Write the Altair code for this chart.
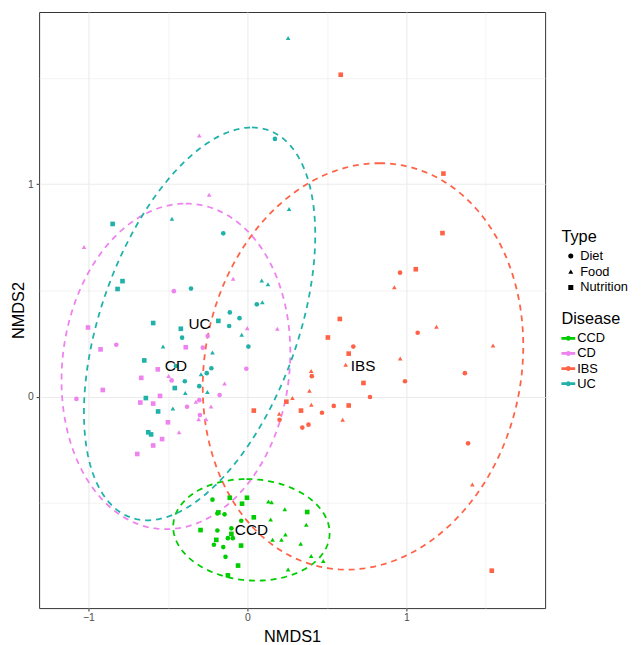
import altair as alt
import numpy as np
import pandas as pd

# ---------------- data ----------------
diseases = ["CCD", "CD", "IBS", "UC"]
types = ["Diet", "Food", "Nutrition"]
colors = ["#00CD00", "#EE82EE", "#FF6347", "#20B2AA"]
shapes = ["circle", "triangle-up", "square"]

# UC
uc_food_x = [0.256, 0.262, -0.475, 0.090, 0.129, 0.094, -0.036, -0.531, -0.220, -0.292, -0.391, -0.252, -0.469]
uc_food_y = [1.688, 0.883, 0.837, 0.547, 0.529, 0.445, 0.292, 0.236, 0.208, 0.106, 0.018, 0.022, -0.055]
uc_diet_x = [0.173, -0.152, -0.355, 0.059, -0.111, -0.050, -0.115, -0.411, 0.006, -0.227, -0.256, -0.394, -0.303, -0.450]
uc_diet_y = [1.213, 0.769, 0.509, 0.435, 0.397, 0.370, 0.333, 0.278, 0.236, 0.134, 0.111, 0.073, 0.050, 0.145]
uc_nutr_x = [-0.848, -0.786, -0.817, -0.593, -0.419, -0.183, -0.649, -0.457, -0.639, -0.562, -0.624, -0.606]
uc_nutr_y = [0.813, 0.544, 0.507, 0.347, 0.320, 0.357, 0.171, 0.041, -0.006, -0.069, -0.167, -0.177]

# CD
cd_food_x = [-0.303, -0.241, -1.028, -0.090, -0.001, 0.188, -0.496, -0.144, -0.324, -0.229, -0.307, -0.260, -0.430]
cd_food_y = [1.229, 0.950, 0.705, 0.555, 0.323, 0.320, 0.098, 0.063, -0.023, -0.046, -0.106, -0.106, -0.167]
cd_diet_x = [-0.463, -0.250, -0.825, -0.281, -0.007, -0.477, -0.175, -1.076, -0.303, -0.380, -0.299]
cd_diet_y = [0.497, 0.286, 0.245, 0.231, 0.132, 0.077, 0.008, -0.010, -0.016, -0.047, -0.086]
cd_nutr_x = [-1.003, -0.924, -0.388, -0.564, -0.668, -0.910, -0.550, -0.674, -0.593, -0.500, -0.537, -0.593, -0.693]
cd_nutr_y = [0.326, 0.223, 0.233, 0.129, 0.089, 0.032, 0.004, -0.027, -0.032, -0.120, -0.199, -0.229, -0.269]

# IBS
ibs_food_x = [0.924, 1.189, 1.545, 0.961, 0.618, 0.401, 0.390, 0.283, 0.402, 0.599, 0.200, 1.415]
ibs_food_y = [0.515, 0.330, 0.241, 0.180, 0.151, 0.121, 0.028, -0.006, -0.038, -0.108, -0.080, -0.413]
ibs_diet_x = [0.960, 1.071, 0.666, 0.405, 1.368, 0.991, 0.771, 0.543, 0.469, 0.384, 0.345, 1.388, 0.202]
ibs_diet_y = [0.584, 0.301, 0.236, 0.097, 0.111, 0.073, -0.001, -0.043, -0.075, -0.131, -0.145, -0.219, -0.108]
ibs_nutr_x = [0.587, 1.233, 1.227, 1.059, 0.581, 0.506, 0.637, 0.730, 0.637, 0.245, 0.337, 0.040, 1.537]
ibs_nutr_y = [1.515, 1.050, 0.770, 0.600, 0.366, 0.279, 0.203, 0.065, -0.041, -0.023, -0.065, -0.065, -0.818]

# CCD
ccd_diet_x = [-0.220, -0.189, -0.144, -0.039, -0.189, -0.101, -0.123, -0.092, -0.211, -0.152, -0.138]
ccd_diet_y = [-0.484, -0.549, -0.553, -0.583, -0.629, -0.619, -0.665, -0.665, -0.696, -0.707, -0.753]
ccd_nutr_x = [-0.111, -0.003, -0.034, -0.183, 0.040, 0.376, -0.295, -0.101, -0.196, -0.040, -0.059, -0.123]
ccd_nutr_y = [-0.475, -0.475, -0.503, -0.544, -0.567, -0.542, -0.627, -0.645, -0.673, -0.700, -0.794, -0.840]
ccd_food_x = [0.132, 0.152, 0.235, 0.146, 0.370, 0.239, 0.158, 0.214, 0.335, 0.401, 0.477, 0.256]
ccd_food_y = [-0.493, -0.496, -0.529, -0.577, -0.602, -0.648, -0.673, -0.673, -0.691, -0.749, -0.773, -0.812]

# ellipse centres (also label positions) and conjugate semi-diameters
ell_cx = [0.025, -0.450, 0.727, -0.301]
ell_cy = [-0.626, 0.143, 0.143, 0.343]
ell_ux = [-0.031, 0.062, 0.102, 0.329]
ell_uy = [0.239, 0.766, 0.956, 0.924]
ell_vx = [0.491, 0.717, 1.003, 0.649]
ell_vy = [0.0, 0.0, 0.0, 0.0]

# ---------------- build tables ----------------
groups = [
    ("UC", "Food", uc_food_x, uc_food_y), ("UC", "Diet", uc_diet_x, uc_diet_y), ("UC", "Nutrition", uc_nutr_x, uc_nutr_y),
    ("CD", "Food", cd_food_x, cd_food_y), ("CD", "Diet", cd_diet_x, cd_diet_y), ("CD", "Nutrition", cd_nutr_x, cd_nutr_y),
    ("IBS", "Food", ibs_food_x, ibs_food_y), ("IBS", "Diet", ibs_diet_x, ibs_diet_y), ("IBS", "Nutrition", ibs_nutr_x, ibs_nutr_y),
    ("CCD", "Diet", ccd_diet_x, ccd_diet_y), ("CCD", "Nutrition", ccd_nutr_x, ccd_nutr_y), ("CCD", "Food", ccd_food_x, ccd_food_y),
]
rows = []
for d, t, xs, ys in groups:
    for x, y in zip(xs, ys):
        rows.append({"NMDS1": x, "NMDS2": y, "Disease": d, "Type": t})
pts = pd.DataFrame(rows)

tt = np.linspace(0, 2 * np.pi, 200)
def ellipse_df(i):
    return pd.DataFrame({
        "k": np.arange(len(tt)),
        "NMDS1": ell_cx[i] + ell_ux[i] * np.cos(tt) + ell_vx[i] * np.sin(tt),
        "NMDS2": ell_cy[i] + ell_uy[i] * np.cos(tt) + ell_vy[i] * np.sin(tt),
    })

labels = pd.DataFrame({"NMDS1": ell_cx, "NMDS2": ell_cy, "Disease": diseases})

# ---------------- chart ----------------
FONT = "Liberation Sans"
W, H = 512.5, 603.7
xdom = [-1.3106, 1.8727]
ydom = [-0.994, 1.810]
grid_vals_x = [-1.0, -0.5, 0.0, 0.5, 1.0, 1.5]
grid_vals_y = [-0.5, 0.0, 0.5, 1.0, 1.5]

cond_tick = {"condition": {"test": "datum.value % 1 != 0", "value": 0}, "value": 1}
cond_gridw = {"condition": {"test": "datum.value % 1 != 0", "value": 0.6}, "value": 1.1}

def make_axis(vals, title, **kw):
    return alt.Axis(
        values=vals, title=title, grid=True, gridColor="#EBEBEB", gridWidth=cond_gridw,
        tickOpacity=cond_tick, tickColor="#333333", tickSize=3,
        labelExpr="datum.value % 1 == 0 ? format(datum.value, 'd') : ''",
        labelFont=FONT, labelFontSize=10.5, labelColor="#4D4D4D",
        titleFont=FONT, titleFontSize=16.5, titleFontWeight="normal", titleColor="#000000",
        domain=False, **kw)

xenc = alt.X("NMDS1:Q", scale=alt.Scale(domain=xdom, nice=False, zero=False),
             axis=make_axis(grid_vals_x, "NMDS1", labelPadding=2, titlePadding=5))
yenc = alt.Y("NMDS2:Q", scale=alt.Scale(domain=ydom, nice=False, zero=False),
             axis=make_axis(grid_vals_y, "NMDS2", labelPadding=3,
                            titleX=-21, titleY=H / 2, titleBaseline="middle", titleAlign="center"))

color_scale = alt.Scale(domain=diseases, range=colors)
# line-with-dot key; both sub-paths wound clockwise so nothing is cut out
dis_symbol = ("M-1,-0.2L1,-0.2L1,0.2L-1,0.2Z "
              "M-0.36,0A0.36,0.36,0,0,1,0.36,0A0.36,0.36,0,0,1,-0.36,0Z")

dis_legend = alt.Legend(
    title="Disease", orient="none", legendX=529, legendY=303,
    symbolType=dis_symbol, symbolSize=196, symbolStrokeWidth=0, symbolOpacity=1,
    labelFont=FONT, labelFontSize=13, labelOffset=2, rowPadding=1.3,
    titleFont=FONT, titleFontSize=16.5, titleFontWeight="normal", titlePadding=4)

points = alt.Chart(pts).mark_point(filled=True, opacity=1).encode(
    x=xenc, y=yenc,
    color=alt.Color("Disease:N", scale=color_scale, legend=dis_legend),
    shape=alt.Shape("Type:N", scale=alt.Scale(domain=types, range=shapes), legend=alt.Legend(
        title="Type", orient="none", legendX=529, legendY=220,
        symbolFillColor="#000000", symbolStrokeColor="#000000", symbolStrokeWidth=0,
        symbolSize=26, symbolOffset=3, symbolOpacity=1,
        labelFont=FONT, labelFontSize=13, labelOffset=3, rowPadding=2,
        titleFont=FONT, titleFontSize=16.5, titleFontWeight="normal", titlePadding=4)),
    size=alt.value(22),
)

ellipse_layers = [
    alt.Chart(ellipse_df(i)).mark_line(
        strokeDash=[6, 5], strokeWidth=1.8, clip=True, color=colors[i]
    ).encode(x=xenc, y=yenc, order="k:Q")
    for i in range(len(diseases))
]

text = alt.Chart(labels).mark_text(font=FONT, fontSize=15.5, color="#000000").encode(
    x=xenc, y=yenc, text="Disease:N")

chart = alt.layer(*ellipse_layers, points, text).properties(
    width=W, height=H,
    background="white",
    autosize=alt.AutoSizeParams(type="none"),
    padding={"left": 31.5, "top": 0, "right": 89, "bottom": 33},
).configure_view(stroke="#333333", strokeWidth=1)

chart.save("out.html", embed_options={"renderer": "svg", "actions": False})
